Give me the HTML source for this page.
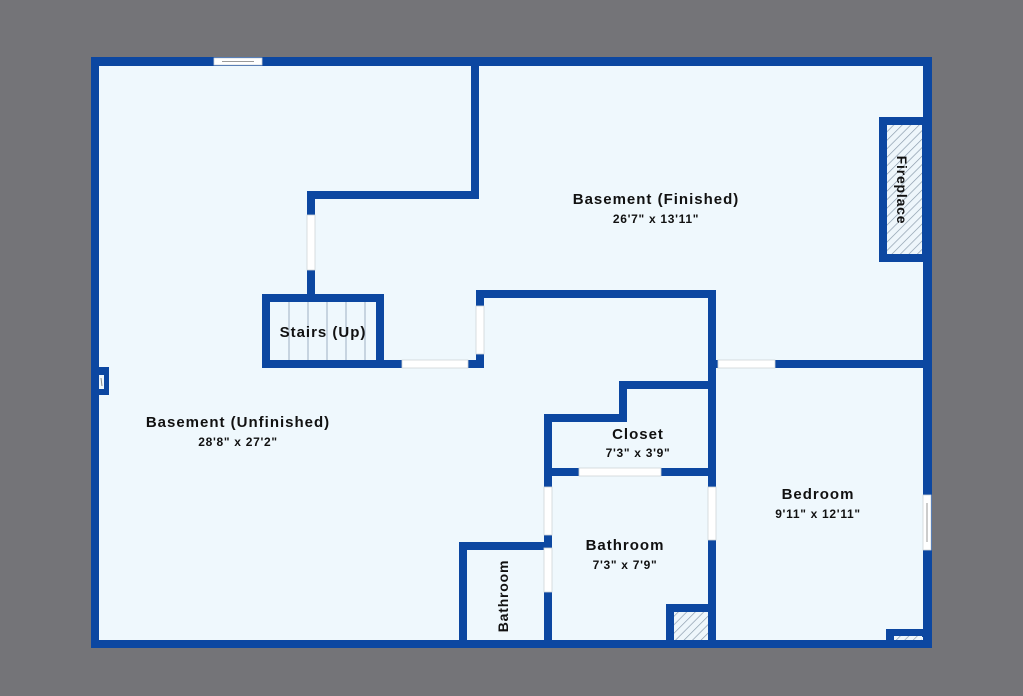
<!DOCTYPE html>
<html><head><meta charset="utf-8"><style>
html,body{margin:0;padding:0;background:#747478;}
svg{display:block}
text{font-family:"Liberation Sans","DejaVu Sans",sans-serif;font-weight:bold;fill:#111;}
.t{font-size:15px;letter-spacing:1px}
.d{font-size:12px;letter-spacing:0.7px}
</style></head><body>
<svg width="1023" height="696" viewBox="0 0 1023 696" xmlns="http://www.w3.org/2000/svg">
<defs>
<pattern id="h" width="6" height="6" patternUnits="userSpaceOnUse" patternTransform="rotate(45)">
<rect width="6" height="6" fill="#eef6fb"/><line x1="0" y1="0" x2="0" y2="6" stroke="#8899aa" stroke-width="1.3"/>
</pattern>
</defs>
<rect width="1023" height="696" fill="#747478"/>
<rect x="91" y="57" width="841" height="591" fill="#0c47a1"/>
<rect x="99" y="66" width="824" height="574" fill="#eff8fd"/>
<g stroke="#0c47a1" stroke-width="8" fill="none" stroke-linecap="square">
<polyline points="475,64 475,195 311,195 311,298"/>
<rect x="266" y="298" width="114" height="66"/>
<line x1="380" y1="364" x2="480" y2="364"/>
<polyline points="480,364 480,294 712,294 712,644"/>
<line x1="712" y1="364" x2="926" y2="364"/>
<polyline points="712,385 623,385 623,418 548,418 548,644"/>
<line x1="548" y1="472" x2="712" y2="472"/>
<polyline points="463,644 463,546 548,546"/>
<polyline points="670,644 670,608 712,608"/>
<polyline points="890,644 890,633 926,633"/>
<rect x="883" y="121" width="39" height="137"/>
<polyline points="95,371 105,371 105,391 95,391"/>
</g>
<rect x="887" y="125" width="35" height="129" fill="url(#h)"/>
<rect x="674" y="612" width="34" height="28" fill="url(#h)"/>
<rect x="894" y="636" width="28" height="4" fill="url(#h)"/>
<rect x="99" y="375" width="5" height="14" fill="#eff8fd"/>
<line x1="101" y1="378" x2="102" y2="386" stroke="#888" stroke-width="1"/>
<g fill="#ffffff" stroke="#cfd4d8" stroke-width="0.8">
<rect x="214" y="58" width="48" height="7"/>
<rect x="307" y="215" width="8" height="55"/>
<rect x="402" y="360" width="66" height="8"/>
<rect x="476" y="306" width="8" height="48"/>
<rect x="718" y="360" width="57" height="8"/>
<rect x="579" y="468" width="82" height="8"/>
<rect x="708" y="487" width="8" height="53"/>
<rect x="544" y="487" width="8" height="48"/>
<rect x="544" y="548" width="8" height="44"/>
<rect x="923" y="495" width="8" height="55"/>
</g>
<line x1="222" y1="61.5" x2="254" y2="61.5" stroke="#999" stroke-width="1"/>
<line x1="927" y1="503" x2="927" y2="542" stroke="#999" stroke-width="1"/>
<g stroke="#9fb0c2" stroke-width="1">
<line x1="289" y1="302" x2="289" y2="360"/><line x1="308" y1="302" x2="308" y2="360"/>
<line x1="327" y1="302" x2="327" y2="360"/><line x1="346" y1="302" x2="346" y2="360"/>
<line x1="365" y1="302" x2="365" y2="360"/>
</g>
<text x="656" y="204" class="t" text-anchor="middle">Basement (Finished)</text>
<text x="656" y="223" class="d" text-anchor="middle">26'7" x 13'11"</text>
<text x="323" y="337" class="t" text-anchor="middle">Stairs (Up)</text>
<text x="238" y="427" class="t" text-anchor="middle">Basement (Unfinished)</text>
<text x="238" y="446" class="d" text-anchor="middle">28'8" x 27'2"</text>
<text x="638" y="439" class="t" text-anchor="middle">Closet</text>
<text x="638" y="457" class="d" text-anchor="middle">7'3" x 3'9"</text>
<text x="818" y="499" class="t" text-anchor="middle">Bedroom</text>
<text x="818" y="518" class="d" text-anchor="middle">9'11" x 12'11"</text>
<text x="625" y="550" class="t" text-anchor="middle">Bathroom</text>
<text x="625" y="569" class="d" text-anchor="middle">7'3" x 7'9"</text>
<text transform="translate(508,596) rotate(-90)" font-size="14" letter-spacing="0.8" text-anchor="middle">Bathroom</text>
<text transform="translate(897,190) rotate(90)" font-size="14" letter-spacing="0.8" text-anchor="middle">Fireplace</text>
</svg>
</body></html>
